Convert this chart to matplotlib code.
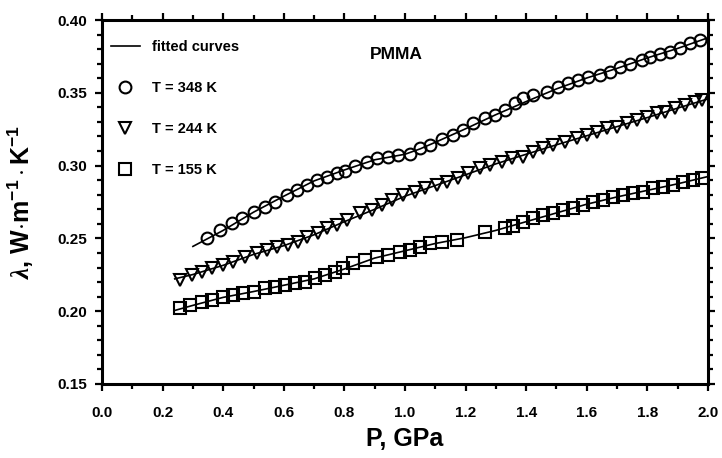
# -*- coding: utf-8 -*-
"""
Thermal conductivity of PMMA vs pressure at three temperatures
(points = measurements, lines = fitted curves)
"""

import numpy as np
import matplotlib
matplotlib.use('Agg')
import matplotlib.pyplot as plt
from matplotlib.lines import Line2D
from matplotlib.ticker import MultipleLocator

plt.rcParams['font.family'] = ['Liberation Sans', 'DejaVu Sans']
plt.rcParams['font.weight'] = 'bold'
plt.rcParams['mathtext.fontset'] = 'custom'
plt.rcParams['mathtext.rm'] = 'Liberation Sans:bold'
plt.rcParams['mathtext.bf'] = 'Liberation Sans:bold'
plt.rcParams['mathtext.it'] = 'Liberation Serif:italic'
plt.rcParams['mathtext.default'] = 'rm'

#==============================================================================
# data
#==============================================================================
# T = 348 K
p_348 = [0.345, 0.389, 0.428, 0.461, 0.500, 0.538, 0.571, 0.610, 0.643,
         0.676, 0.709, 0.742, 0.775, 0.802, 0.835, 0.873, 0.906, 0.945,
         0.978, 1.016, 1.050, 1.083, 1.121, 1.160, 1.192, 1.225, 1.264,
         1.297, 1.330, 1.363, 1.390, 1.424, 1.467, 1.506, 1.539, 1.572,
         1.605, 1.644, 1.677, 1.710, 1.743, 1.781, 1.809, 1.842, 1.875,
         1.908, 1.941, 1.974]
lam_348 = [0.2500, 0.2558, 0.2604, 0.2638, 0.2683, 0.2718, 0.2752, 0.2798,
           0.2832, 0.2867, 0.2900, 0.2924, 0.2947, 0.2965, 0.2997, 0.3027,
           0.3050, 0.3061, 0.3073, 0.3080, 0.3119, 0.3141, 0.3180, 0.3210,
           0.3245, 0.3290, 0.3325, 0.3348, 0.3380, 0.3428, 0.3462, 0.3485,
           0.3508, 0.3542, 0.3565, 0.3588, 0.3610, 0.3620, 0.3645, 0.3680,
           0.3700, 0.3725, 0.3748, 0.3770, 0.3782, 0.3806, 0.3840, 0.3863]

# T = 244 K
p_244 = [0.257, 0.296, 0.329, 0.362, 0.400, 0.433, 0.472, 0.510, 0.543,
         0.577, 0.615, 0.648, 0.676, 0.714, 0.742, 0.775, 0.808, 0.851,
         0.890, 0.923, 0.956, 0.995, 1.033, 1.066, 1.105, 1.138, 1.176,
         1.209, 1.248, 1.281, 1.319, 1.352, 1.390, 1.424, 1.457, 1.490,
         1.528, 1.567, 1.600, 1.633, 1.666, 1.699, 1.732, 1.765, 1.798,
         1.831, 1.858, 1.891, 1.924, 1.957, 1.980]
lam_244 = [0.2214, 0.2249, 0.2271, 0.2294, 0.2317, 0.2340, 0.2374, 0.2397,
           0.2420, 0.2443, 0.2455, 0.2477, 0.2512, 0.2535, 0.2569, 0.2592,
           0.2626, 0.2672, 0.2695, 0.2729, 0.2764, 0.2798, 0.2821, 0.2844,
           0.2867, 0.2890, 0.2913, 0.2947, 0.2981, 0.3004, 0.3027, 0.3050,
           0.3061, 0.3096, 0.3119, 0.3141, 0.3164, 0.3187, 0.3210, 0.3233,
           0.3256, 0.3267, 0.3290, 0.3313, 0.3336, 0.3359, 0.3370, 0.3393,
           0.3416, 0.3439, 0.3450]

# T = 155 K
p_155 = [0.257, 0.290, 0.329, 0.362, 0.400, 0.433, 0.466, 0.500, 0.538,
         0.571, 0.604, 0.637, 0.670, 0.703, 0.736, 0.769, 0.797, 0.830,
         0.868, 0.906, 0.945, 0.983, 1.016, 1.050, 1.083, 1.121, 1.170,
         1.264, 1.330, 1.357, 1.390, 1.424, 1.457, 1.490, 1.522, 1.556,
         1.589, 1.622, 1.654, 1.688, 1.720, 1.754, 1.787, 1.820, 1.853,
         1.886, 1.919, 1.952, 1.980]
lam_155 = [0.2020, 0.2043, 0.2065, 0.2077, 0.2100, 0.2111, 0.2123, 0.2134,
           0.2157, 0.2169, 0.2180, 0.2192, 0.2203, 0.2226, 0.2249, 0.2271,
           0.2300, 0.2329, 0.2352, 0.2374, 0.2386, 0.2409, 0.2420, 0.2443,
           0.2466, 0.2477, 0.2489, 0.2546, 0.2569, 0.2585, 0.2615, 0.2638,
           0.2660, 0.2672, 0.2695, 0.2707, 0.2730, 0.2752, 0.2764, 0.2787,
           0.2798, 0.2810, 0.2821, 0.2844, 0.2855, 0.2867, 0.2890, 0.2901,
           0.2913]

# fitted curves
p_fit_348 = [0.30, 0.35, 0.40, 0.50, 0.60, 0.70, 0.80, 0.90, 1.00, 1.05,
             1.10, 1.20, 1.30, 1.40, 1.50, 1.60, 1.70, 1.80, 1.90, 2.00]
lam_fit_348 = [0.2445, 0.2500, 0.2555, 0.2680, 0.2790, 0.2895, 0.2970,
               0.3040, 0.3078, 0.3115, 0.3160, 0.3253, 0.3350, 0.3440,
               0.3527, 0.3602, 0.3668, 0.3740, 0.3805, 0.3878]

p_fit_244 = [0.24, 0.30, 0.40, 0.50, 0.60, 0.70, 0.80, 0.90, 1.00, 1.10,
             1.20, 1.30, 1.40, 1.50, 1.60, 1.70, 1.80, 1.90, 2.00]
lam_fit_244 = [0.2222, 0.2252, 0.2315, 0.2390, 0.2450, 0.2525, 0.2615,
               0.2700, 0.2790, 0.2863, 0.2937, 0.3012, 0.3078, 0.3143,
               0.3205, 0.3268, 0.3330, 0.3395, 0.3458]

p_fit_155 = [0.24, 0.30, 0.40, 0.50, 0.60, 0.70, 0.80, 0.90, 1.00, 1.10,
             1.20, 1.30, 1.40, 1.50, 1.60, 1.70, 1.80, 1.90, 2.00]
lam_fit_155 = [0.2005, 0.2040, 0.2095, 0.2135, 0.2178, 0.2222, 0.2290,
               0.2365, 0.2415, 0.2465, 0.2505, 0.2555, 0.2615, 0.2675,
               0.2735, 0.2785, 0.2830, 0.2875, 0.2925]

legend_labels = ['fitted curves', 'T = 348 K', 'T = 244 K', 'T = 155 K']

#==============================================================================
# plot
#==============================================================================
fig = plt.figure(figsize=(7.22, 4.58), dpi=100)
ax = fig.add_axes([0.1413, 0.1616, 0.8393, 0.7947])

mk = dict(linestyle='none', markerfacecolor='none', markeredgecolor='k',
          markersize=8.5, markeredgewidth=1.5)

ax.plot(p_fit_348, lam_fit_348, color='k', lw=1.2, zorder=3)
ax.plot(p_fit_244, lam_fit_244, color='k', lw=1.2, zorder=3)
ax.plot(p_fit_155, lam_fit_155, color='k', lw=1.2, zorder=3)

ax.plot(p_348, lam_348, marker='o', **mk)
ax.plot(p_244, lam_244, marker='v', **mk)
ax.plot(p_155, lam_155, marker='s', **mk)

ax.set_xlim(0.0, 2.0)
ax.set_ylim(0.15, 0.40)
ax.xaxis.set_major_locator(MultipleLocator(0.2))
ax.xaxis.set_minor_locator(MultipleLocator(0.1))
ax.yaxis.set_major_locator(MultipleLocator(0.05))
ax.yaxis.set_minor_locator(MultipleLocator(0.01))
ax.xaxis.set_major_formatter(matplotlib.ticker.FormatStrFormatter('%.1f'))
ax.yaxis.set_major_formatter(matplotlib.ticker.FormatStrFormatter('%.2f'))

for sp in ax.spines.values():
    sp.set_linewidth(2.2)
ax.tick_params(which='both', direction='out', top=True, right=True,
               width=1.6, labelsize=11)
ax.tick_params(which='major', length=5)
ax.tick_params(which='minor', length=3.5)
ax.tick_params(axis='x', which='major', pad=11)
ax.tick_params(axis='y', which='major', pad=6)

ax.set_xlabel('P, GPa', fontsize=18, fontweight='bold', labelpad=5)
ax.set_ylabel(r'$\mathit{\lambda}$, W$\cdot$m$^{-1}\cdot$K$^{-1}$',
              fontsize=18, fontweight='bold', labelpad=15)

ax.text(0.485, 0.905, 'PMMA', fontsize=12.5, fontweight='bold',
        ha='center', va='center', transform=ax.transAxes)

handles = [Line2D([], [], color='k', lw=1.2),
           Line2D([], [], marker='o', **mk),
           Line2D([], [], marker='v', **mk),
           Line2D([], [], marker='s', **mk)]
ax.legend(handles, legend_labels, loc='upper left', frameon=False,
          fontsize=10.5, labelspacing=1.85, handlelength=2.0,
          handletextpad=0.8, borderaxespad=0.2,
          bbox_to_anchor=(0.0, 0.968))

fig.savefig('out.png', dpi=100)
plt.close()
